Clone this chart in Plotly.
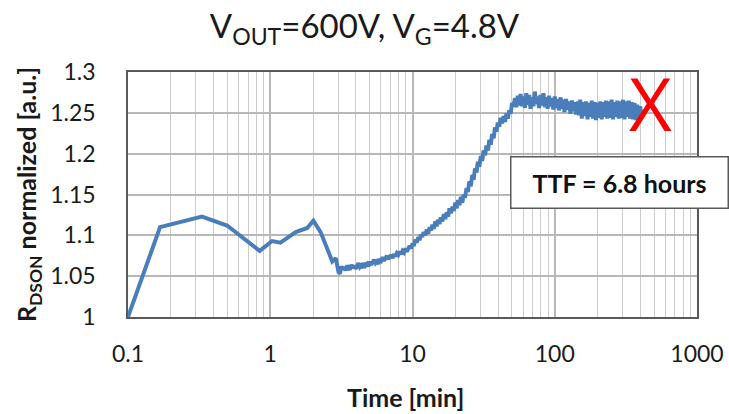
import plotly.graph_objects as go

# ---- data ----
time_early = [0.1, 0.168, 0.331, 0.497, 0.843, 1.03, 1.18, 1.51, 1.82, 2.01, 2.26, 2.59, 2.73, 2.89]
rdson_early = [1.000, 1.110, 1.123, 1.112, 1.081, 1.093, 1.091, 1.104, 1.109, 1.118, 1.104, 1.078, 1.068, 1.072]

time_rise = [3.02, 3.09, 3.16, 3.24, 3.31, 3.39, 3.47, 3.55, 3.63, 3.72, 3.80, 3.89, 3.98, 4.07, 4.17,
             4.27, 4.37, 4.47, 4.57, 4.68, 4.79, 4.90, 5.01, 5.13, 5.25, 5.37, 5.50, 5.62, 5.75, 5.89,
             6.03, 6.17, 6.31, 6.46, 6.61, 6.76, 6.92, 7.08, 7.24, 7.41, 7.59, 7.76, 7.94, 8.13, 8.32,
             8.51, 8.71, 8.91, 9.12, 9.33, 9.55, 9.77, 10.0, 10.2, 10.5, 10.7, 11.0, 11.2, 11.5, 11.7,
             12.0, 12.3, 12.6, 12.9, 13.2, 13.5, 13.8, 14.1, 14.5, 14.8, 15.1, 15.5, 15.8, 16.2, 16.6,
             17.0, 17.4, 17.8, 18.2, 18.6, 19.1, 19.5, 20.0, 20.4, 20.9, 21.4, 21.9, 22.4, 22.9, 23.4,
             24.0, 24.5, 25.1, 25.7, 26.3, 26.9, 27.5, 28.2, 28.8, 29.5, 30.2, 30.9, 31.6, 32.4, 33.1,
             33.9, 34.7, 35.5, 36.3, 37.2, 38.0, 38.9, 39.8, 40.7, 41.7, 42.7, 43.7, 44.7, 45.7, 46.8,
             47.9, 49.0, 50.1]
rdson_rise = [1.055, 1.053, 1.062, 1.058, 1.061, 1.057, 1.063, 1.060, 1.058, 1.064, 1.060, 1.063, 1.059, 1.062, 1.066,
              1.061, 1.063, 1.060, 1.066, 1.063, 1.065, 1.062, 1.068, 1.064, 1.067, 1.070, 1.066, 1.068, 1.065, 1.071,
              1.069, 1.073, 1.069, 1.072, 1.075, 1.071, 1.073, 1.076, 1.072, 1.077, 1.074, 1.078, 1.076, 1.080, 1.077,
              1.081, 1.079, 1.084, 1.080, 1.083, 1.087, 1.084, 1.090, 1.087, 1.095, 1.091, 1.098, 1.094, 1.101, 1.098,
              1.104, 1.100, 1.107, 1.102, 1.110, 1.106, 1.113, 1.108, 1.117, 1.111, 1.119, 1.114, 1.122, 1.117, 1.126,
              1.120, 1.128, 1.123, 1.133, 1.127, 1.135, 1.130, 1.140, 1.133, 1.143, 1.137, 1.147, 1.140, 1.150, 1.146,
              1.158, 1.153, 1.166, 1.160, 1.174, 1.168, 1.182, 1.177, 1.190, 1.184, 1.197, 1.191, 1.204, 1.198, 1.210,
              1.204, 1.217, 1.211, 1.224, 1.219, 1.232, 1.227, 1.238, 1.233, 1.244, 1.237, 1.246, 1.239, 1.249, 1.243,
              1.253, 1.249, 1.262]

time_plateau = [51.3, 52.5, 53.7, 55.0, 56.2, 57.5, 58.9, 60.3, 61.7, 63.1, 64.6, 66.1, 67.6, 69.2, 70.8,
                72.4, 74.1, 75.9, 77.6, 79.4, 81.3, 83.2, 85.1, 87.1, 89.1, 91.2, 93.3, 95.5, 97.7, 100,
                102, 105, 107, 110, 112, 115, 117, 120, 123, 126, 129, 132, 135, 138, 141,
                145, 148, 151, 155, 158, 162, 166, 170, 174, 178, 182, 186, 191, 195, 200,
                204, 209, 214, 219, 224, 229, 234, 240, 245, 251, 257, 263, 269, 275, 282,
                288, 295, 302, 309, 316, 324, 331, 339, 347, 355, 363, 372, 380, 389, 398, 407]
rdson_plateau = [1.258, 1.268, 1.257, 1.271, 1.259, 1.273, 1.258, 1.270, 1.256, 1.274, 1.260, 1.272, 1.255, 1.269, 1.258,
                 1.276, 1.261, 1.270, 1.256, 1.272, 1.259, 1.274, 1.257, 1.269, 1.255, 1.271, 1.258, 1.268, 1.254, 1.270,
                 1.256, 1.267, 1.253, 1.269, 1.255, 1.266, 1.251, 1.267, 1.254, 1.264, 1.249, 1.265, 1.252, 1.263, 1.248,
                 1.264, 1.247, 1.266, 1.243, 1.263, 1.246, 1.264, 1.242, 1.262, 1.245, 1.265, 1.243, 1.263, 1.241, 1.262,
                 1.244, 1.264, 1.242, 1.263, 1.245, 1.265, 1.243, 1.264, 1.244, 1.266, 1.242, 1.263, 1.245, 1.265, 1.243,
                 1.264, 1.244, 1.266, 1.242, 1.264, 1.245, 1.265, 1.243, 1.263, 1.242, 1.262, 1.241, 1.260, 1.240, 1.258, 1.248]

time_min = time_early + time_rise + time_plateau
rdson = rdson_early + rdson_rise + rdson_plateau

fail_time = [470]
fail_value = [1.251]

x_tickvals = [0.1, 1, 10, 100, 1000]
x_ticktext = ["0.1", "1", "10", "100", "1000"]
y_tickvals = [1, 1.05, 1.1, 1.15, 1.2, 1.25, 1.3]
y_ticktext = ["1", "1.05", "1.1", "1.15", "1.2", "1.25", "1.3"]

FONT = "Lato"
fig = go.Figure()
fig.add_trace(go.Scatter(x=time_min, y=rdson, mode="lines",
                         line=dict(color="#4a7ebb", width=4), showlegend=False))
fig.add_trace(go.Scatter(x=fail_time, y=fail_value, mode="text", text=["X"],
                         textfont=dict(family="Open Sans", size=74, color="#ff0000", weight=400),
                         textposition="middle center", showlegend=False))

fig.update_layout(
    width=729, height=414,
    margin=dict(l=128, r=32, t=72, b=97),
    paper_bgcolor="white", plot_bgcolor="white",
    font=dict(family=FONT, color="#1a1a1a"),
    title=dict(text="V<sub>OUT</sub>=600V, V<sub>G</sub>=4.8V", x=0.5, xanchor="center",
               y=0.935, yanchor="middle", font=dict(size=33, family=FONT, color="#1a1a1a")),
    xaxis=dict(type="log", range=[-1, 3], tickvals=x_tickvals, ticktext=x_ticktext,
               showgrid=True, gridcolor="#b8b8b8", gridwidth=1.5,
               minor=dict(tickvals=[v * m for v in [0.1, 1, 10, 100] for m in range(2, 10)],
                          showgrid=True, gridcolor="#cccccc", gridwidth=1.2),
               showline=True, linecolor="#595959", linewidth=1.5, mirror=True,
               ticks="", ticklabelstandoff=16, tickfont=dict(size=23, family=FONT),
               automargin=False, zeroline=False),
    yaxis=dict(range=[1, 1.3], tickvals=y_tickvals, ticktext=y_ticktext,
               showgrid=True, gridcolor="#b8b8b8", gridwidth=1.5,
               showline=True, linecolor="#595959", linewidth=1.5, mirror=True,
               ticks="", ticklabelstandoff=26, tickfont=dict(size=23, family=FONT),
               title=dict(text="<b>R<sub>DSON</sub> normalized [a.u.]</b>", font=dict(size=25, family=FONT), standoff=6),
               zeroline=False),
    annotations=[
        dict(text="<b>TTF = 6.8 hours</b>", xref="paper", yref="paper",
             x=0.864, y=0.547, xanchor="center", yanchor="middle", showarrow=False,
             width=214, height=48, bgcolor="white", bordercolor="#595959", borderwidth=1.5,
             font=dict(size=25, family=FONT, color="#111111")),
        dict(text="<b>Time [min]</b>", xref="paper", yref="paper",
             x=0.487, y=-0.327, xanchor="center", yanchor="middle", showarrow=False,
             font=dict(size=25, family=FONT, color="#1a1a1a")),
    ],
)

fig.write_html("out.html")
